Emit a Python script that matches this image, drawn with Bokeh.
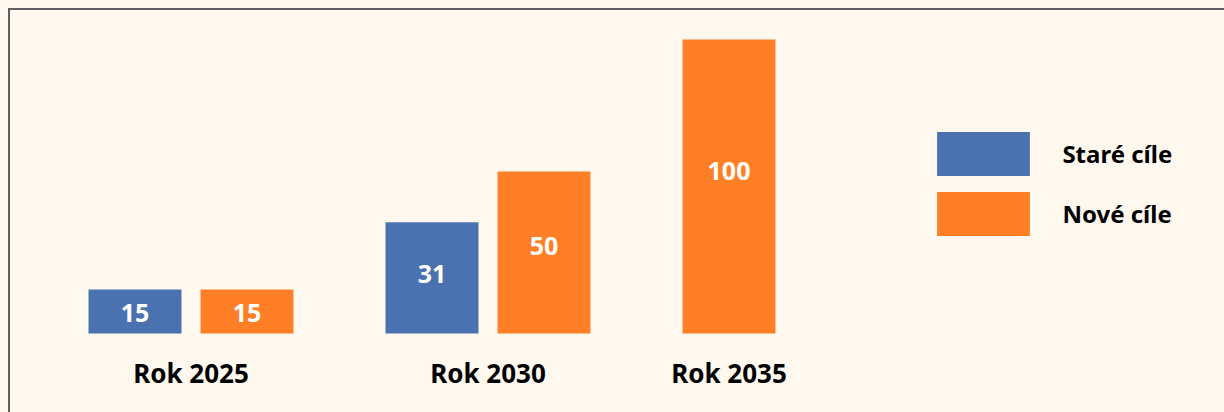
import re
from bokeh.plotting import figure
from bokeh.models import FactorRange, Range1d, ColumnDataSource, Legend, LegendItem
from bokeh.core.properties import value
from bokeh.embed import file_html
from bokeh.resources import INLINE

# ---- data -------------------------------------------------------------
years = ["Rok 2025", "Rok 2030", "Rok 2035"]
series = ["Staré cíle", "Nové cíle"]

old_years = ["Rok 2025", "Rok 2030"]
old_values = [15, 31]            # printed labels
old_heights = [15, 37.8]         # drawn bar heights

new_years = ["Rok 2025", "Rok 2030", "Rok 2035"]
new_values = [15, 50, 100]       # printed labels
new_heights = [15, 55.1, 100]    # drawn bar heights

colors = ["#4A72B0", "#FF7F27"]

# ---- style ------------------------------------------------------------
BG = "#FFF8EE"
FONT = "Noto Sans"

factors = []
for yr in years:
    if yr in old_years:
        factors.append((yr, series[0]))
    factors.append((yr, series[1]))

x_range = FactorRange(factors=factors, factor_padding=0.0, group_padding=0.652,
                      range_padding=0.6116, range_padding_units="absolute")
y_range = Range1d(-26.87, 109.86)

p = figure(width=1214, height=402, frame_width=843, frame_height=402,
           x_range=x_range, y_range=y_range,
           output_backend="svg", toolbar_location=None,
           x_axis_location=None, y_axis_location=None,
           min_border_left=0, min_border_right=0,
           min_border_top=0, min_border_bottom=0,
           background_fill_color=BG, border_fill_color=BG,
           outline_line_color=None)
p.grid.visible = False


def label_pos(h):
    return 0.568 * h - 1.4


src_old = ColumnDataSource(dict(
    x=[(yr, series[0]) for yr in old_years], top=old_heights,
    label=[str(v) for v in old_values], ly=[label_pos(h) for h in old_heights]))
src_new = ColumnDataSource(dict(
    x=[(yr, series[1]) for yr in new_years], top=new_heights,
    label=[str(v) for v in new_values], ly=[label_pos(h) for h in new_heights]))

r_old = p.vbar(x="x", top="top", bottom=0, width=0.83, source=src_old,
               fill_color=colors[0], line_color=None)
r_new = p.vbar(x="x", top="top", bottom=0, width=0.83, source=src_new,
               fill_color=colors[1], line_color=None)

for src in (src_old, src_new):
    p.text(x="x", y="ly", text="label", source=src, text_color="white",
           text_font=value(FONT), text_font_style="bold", text_font_size="25px",
           text_align="center", text_baseline="middle")

p.text(x=years, y=[-13.3] * len(years), text=years, text_color="#000000",
       text_font=value(FONT), text_font_style="bold", text_font_size="26px",
       text_align="center", text_baseline="middle")

legend = Legend(items=[LegendItem(label=series[0], renderers=[r_old]),
                       LegendItem(label=series[1], renderers=[r_new])],
                location=(72.4, 171.5), orientation="vertical",
                glyph_width=116, glyph_height=55, spacing=5, label_standoff=21,
                padding=0, margin=0, border_line_color=None,
                background_fill_alpha=0, label_height=55,
                label_text_font=FONT, label_text_font_style="bold",
                label_text_font_size="24px", label_text_color="#000000")
p.add_layout(legend, "right")

body_style = (f"background-color:{BG}; margin:8px 0 0 8px; height:calc(100% - 8px);"
              " border-top:2px solid #5f5f5f; border-left:2px solid #5f5f5f; overflow:hidden;")
html = file_html(p, INLINE, title="Cíle")
head, sep, rest = html.partition("</head>")
rest = re.sub(r"<body[^>]*>", f'<body style="{body_style}">', rest, count=1)
html = head + sep + rest
open("out.html", "w").write(html)
